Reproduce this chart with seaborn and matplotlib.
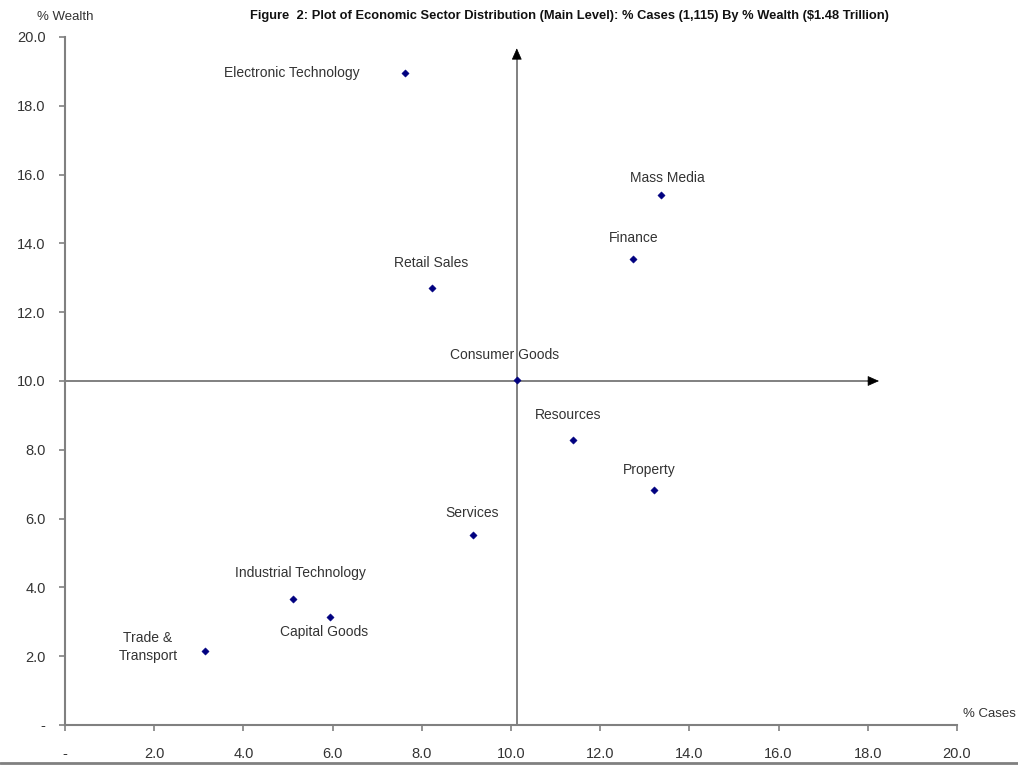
import matplotlib
matplotlib.use("Agg")
import matplotlib.pyplot as plt
import seaborn as sns
import pandas as pd

sectors = ["Electronic Technology", "Mass Media", "Finance", "Retail Sales",
           "Consumer Goods", "Resources", "Property", "Services",
           "Industrial Technology", "Capital Goods", "Trade &\nTransport"]
pct_cases = [7.62, 13.36, 12.74, 8.23, 10.13, 11.39, 13.21, 9.15, 5.11, 5.94, 3.14]
pct_wealth = [18.95, 15.41, 13.55, 12.70, 10.03, 8.28, 6.83, 5.52, 3.66, 3.14, 2.15]
tick_vals = [0, 2, 4, 6, 8, 10, 12, 14, 16, 18, 20]
tick_labels = ["-", "2.0", "4.0", "6.0", "8.0", "10.0", "12.0", "14.0", "16.0", "18.0", "20.0"]
center_x, center_y = 10.13, 10.0
arrow_top, arrow_right = 19.67, 18.25

df = pd.DataFrame({"sector": sectors, "cases": pct_cases, "wealth": pct_wealth})

sns.set_theme(style="white")
plt.rcParams["font.family"] = ["Liberation Sans", "DejaVu Sans"]

fig = plt.figure(figsize=(10.18, 7.66), dpi=100)
ax = fig.add_axes([65/1018, 41/766, 892/1018, 688/766])

# quadrant lines
ax.plot([center_x, center_x], [0, arrow_top - 0.25], color="#808080", lw=1.4, zorder=2)
ax.plot([0, arrow_right - 0.2], [center_y, center_y], color="#808080", lw=1.4, zorder=2)
head = "-|>,head_length=0.9,head_width=0.4"
ax.annotate("", xy=(center_x, arrow_top), xytext=(center_x, arrow_top - 0.3),
            arrowprops=dict(arrowstyle=head, color="black", lw=0.5,
                            mutation_scale=8, shrinkA=0, shrinkB=0), zorder=3)
ax.annotate("", xy=(arrow_right, center_y), xytext=(arrow_right - 0.25, center_y),
            arrowprops=dict(arrowstyle=head, color="black", lw=0.5,
                            mutation_scale=8, shrinkA=0, shrinkB=0), zorder=3)

sns.scatterplot(data=df, x="cases", y="wealth", ax=ax, marker="D",
                color="#000080", s=14, edgecolor="#000080", linewidth=0.3, zorder=5)

offsets = {
    "Electronic Technology": (-113, 0),
    "Mass Media": (7, 17),
    "Finance": (0, 21),
    "Retail Sales": (-1, 25),
    "Consumer Goods": (-12, 25),
    "Resources": (-5, 25),
    "Property": (-5, 20),
    "Services": (-1, 22),
    "Industrial Technology": (8, 26),
    "Capital Goods": (-6, -15),
    "Trade &\nTransport": (-57, 4),
}
for s, x, y in zip(sectors, pct_cases, pct_wealth):
    dx, dy = offsets[s]
    ax.annotate(s, xy=(x, y), xytext=(dx, dy), textcoords="offset pixels",
                ha="center", va="center", fontsize=10, color="#333333",
                linespacing=1.4)

ax.set_xlim(0, 20)
ax.set_ylim(0, 20)
ax.set_xticks(tick_vals)
ax.set_xticklabels(tick_labels)
ax.set_yticks(tick_vals)
ax.set_yticklabels(["-"] + ["%.1f" % v for v in tick_vals[1:]])
ax.set_xlabel("")
ax.set_ylabel("")
ax.tick_params(axis="both", which="both", direction="out", length=4, width=1.2,
               color="#808080", labelsize=10.5, labelcolor="#333333",
               bottom=True, left=True)
ax.tick_params(axis="x", pad=12)
ax.tick_params(axis="y", pad=10)
for side in ["top", "right"]:
    ax.spines[side].set_visible(False)
for side in ["left", "bottom"]:
    ax.spines[side].set_color("#808080")
    ax.spines[side].set_linewidth(1.5)

fig.text(65/1018, 1 - 17/766, "% Wealth", ha="center", va="center",
         fontsize=9.5, color="#333333")
fig.text(963/1018, 1 - 714/766, "% Cases", ha="left", va="center",
         fontsize=9.5, color="#333333")
fig.text(569/1018, 1 - 16/766,
         "Figure  2: Plot of Economic Sector Distribution (Main Level): % Cases (1,115) By % Wealth ($1.48 Trillion)",
         ha="center", va="center", fontsize=9.3, fontweight="bold", color="#111111")
fig.add_artist(plt.Line2D([0, 1], [1 - 763/766, 1 - 763/766], transform=fig.transFigure,
                          color="#808080", lw=2))

fig.savefig("out.png", dpi=100)
